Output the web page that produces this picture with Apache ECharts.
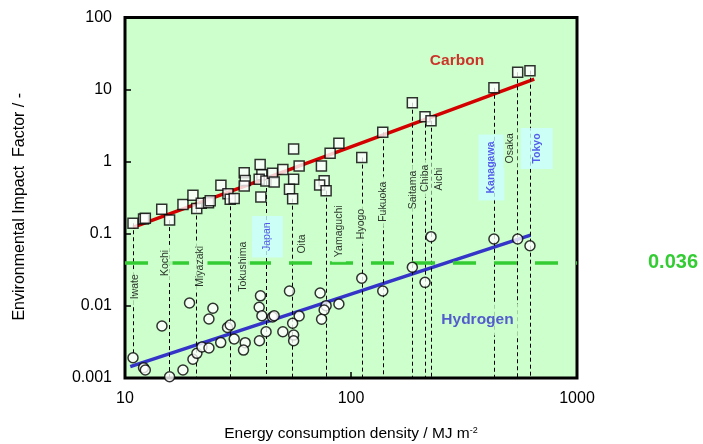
<!DOCTYPE html>
<html><head><meta charset="utf-8">
<script src="https://cdn.jsdelivr.net/npm/echarts@6/dist/echarts.min.js"></script>
<style>html,body{margin:0;padding:0;background:#fff}#c{width:703px;height:444px}</style>
</head><body><div id="c"></div>
<script>
// ---- data ----
const carbonX = [10.85,12.08,12.30,14.54,15.75,18.05,19.98,20.77,21.75,23.42,23.83,26.57,28.54,29.21,30.42,33.69,34.03,33.69,39.63,40.34,39.24,42.02,39.92,44.93,45.71,49.94,55.74,58.96,55.74,53.43,55.18,73.97,80.84,88.40,76.05,72.65,77.6,111.6,138.2,186.8,212.6,226.0,429.0,546.4,619.3];
const carbonY = [0.140,0.160,0.164,0.219,0.155,0.255,0.343,0.224,0.265,0.270,0.288,0.471,0.360,0.301,0.309,0.703,0.548,0.460,0.915,0.660,0.570,0.540,0.324,0.690,0.523,0.780,1.50,0.871,0.570,0.414,0.307,0.871,1.31,1.80,0.545,0.475,0.396,1.14,2.56,6.58,4.21,3.70,10.6,17.4,18.3];
const hydrogenX = [10.85,12.08,12.30,14.57,15.75,18.05,19.30,19.98,20.81,21.90,23.52,23.52,24.49,26.52,28.42,29.21,30.42,34.03,33.45,39.76,39.24,40.34,39.34,42.09,44.93,45.71,49.94,53.43,55.18,55.74,55.74,58.96,73.03,77.6,76.05,74.1,88.4,111.6,138.2,186.8,212.6,226.0,429.0,546.4,619.3];
const hydrogenY = [0.00191,0.00139,0.00129,0.00526,0.00104,0.00129,0.01097,0.00182,0.00220,0.00269,0.00261,0.00658,0.00927,0.00310,0.00501,0.00543,0.00348,0.00309,0.00244,0.0138,0.00957,0.00731,0.00329,0.00438,0.00702,0.00731,0.00438,0.0161,0.00574,0.00394,0.00328,0.00724,0.0151,0.01007,0.00877,0.00652,0.01062,0.0242,0.0161,0.0343,0.0212,0.0912,0.0848,0.0848,0.0684];
const carbonFitX = [10.85, 647];
const carbonFitY = [0.123, 14.0];
const hydrogenFitX = [10.55, 623];
const hydrogenFitY = [0.00144, 0.0961];
const thresholdValue = 0.0375;
const thresholdText = '0.036';
const prefNames = ['Iwate','Kochi','Miyazaki','Tokushima','Japan','Oita','Yamaguchi','Hyogo','Fukuoka','Saitama','Chiba','Aichi','Kanagawa','Osaka','Tokyo'];
const prefLabelX = [11.10,15.12,21.60,33.27,42.70,60.78,88.40,111.0,139.0,187.8,212.0,245.2,418.3,507.6,663.6];
const prefLabelY = [0.01846,0.0394,0.0354,0.0350,0.0912,0.0723,0.1084,0.1368,0.2786,0.4046,0.589,0.575,0.831,1.535,1.524];
const guideX = [10.85,15.75,20.77,29.21,42.02,55.18,77.6,111.6,138.2,186.8,212.6,226.0,429.0,546.4,619.3];
const guideTop = [0.140,0.155,0.224,0.301,0.540,0.307,0.396,1.14,2.56,6.58,4.21,3.70,10.6,17.4,18.3];
const guideBottom = [0.00222,0.001,0.001,0.001,0.001,0.001,0.001,0.001,0.001,0.001,0.001,0.001,0.001,0.001,0.001];
const seriesNames = ['Carbon','Hydrogen'];
const seriesLabelX = [294.4, 362.8];
const seriesLabelY = [24.9, 0.00647];
const xTickLabels = ['10','100','1000'];
const yTickLabels = ['0.001','0.01','0.1','1','10','100'];

// ---- styles ----
const FONT = '"Liberation Sans", Arial, sans-serif';
const prefStyle = {
  Japan: {color:'#3535e8', backgroundColor:'#ccffff', padding:[9.5,6.5]},
  Kanagawa: {color:'#3535e8', fontWeight:'bold', backgroundColor:'#ccffff', padding:[7,7]},
  Tokyo: {color:'#3535e8', fontWeight:'bold', backgroundColor:'#ccffff', padding:[10,5.5]}
};
const seriesLabelStyle = {
  Carbon: {color:'#cc0000', backgroundColor:'transparent', padding:0},
  Hydrogen: {color:'#3333cc', backgroundColor:'#ccffcc', padding:[8,6]}
};
function tickFmt(list){ return function(v){ const e = Math.round(Math.log10(v)); for (const t of list){ if (Math.round(Math.log10(parseFloat(t)))===e) return t; } return ''; }; }

const chart = echarts.init(document.getElementById('c'), null, {renderer:'canvas'});
chart.setOption({
  animation:false,
  backgroundColor:'#ffffff',
  textStyle:{fontFamily:FONT},
  grid:{left:125, right:126, top:17.5, bottom:66, show:true, backgroundColor:'#ccffcc', borderColor:'#000', borderWidth:3, containLabel:false, outerBoundsMode:'none'},
  xAxis:{type:'log', logBase:10, min:10, max:1000, splitNumber:2,
    name:'Energy consumption density / MJ m{sup|-2}', nameLocation:'middle', nameGap:48,
    nameTextStyle:{fontSize:15.5, color:'#000', fontFamily:FONT, rich:{sup:{fontSize:9, verticalAlign:'top', padding:[0,0,7,0], color:'#000', fontFamily:FONT}}},
    axisLine:{show:false}, splitLine:{show:false}, minorTick:{show:false},
    axisTick:{show:true, inside:true, length:6, lineStyle:{color:'#000', width:1.5}},
    axisLabel:{fontSize:16, color:'#000', margin:13, fontFamily:FONT, formatter:tickFmt(xTickLabels), showMinLabel:true, showMaxLabel:true}},
  yAxis:{type:'log', logBase:10, min:0.001, max:100, splitNumber:5,
    name:'Environmental Impact  Factor / -', nameLocation:'middle', nameGap:97,
    nameTextStyle:{fontSize:16, color:'#000', fontFamily:FONT, padding:[0,18,0,0]},
    axisLine:{show:false}, splitLine:{show:false},
    axisTick:{show:true, inside:true, length:6, lineStyle:{color:'#000', width:1.5}},
    axisLabel:{fontSize:16, color:'#000', margin:13, fontFamily:FONT, formatter:tickFmt(yTickLabels), showMinLabel:true, showMaxLabel:true}},
  series:[
    {type:'scatter', name:'guides', data:[], z:2, silent:true,
      markLine:{symbol:'none', silent:true, animation:false, lineStyle:{color:'#000', width:1, type:[4,3]}, label:{show:false},
        data: guideX.map((x,i)=>[{coord:[x, guideTop[i]]},{coord:[x, guideBottom[i]]}])}},
    {type:'scatter', name:'threshold', data:[], z:3, silent:true,
      markLine:{symbol:'none', silent:true, animation:false, lineStyle:{color:'#33cc33', width:3.5, type:[23,18]},
        label:{show:true, position:'end', distance:71, formatter:thresholdText, color:'#33cc33', fontSize:20, fontWeight:'bold', fontFamily:FONT},
        data:[{yAxis:thresholdValue}]}},
    {type:'line', name:'Carbon fit', data:carbonFitX.map((x,i)=>[x,carbonFitY[i]]), showSymbol:false, symbol:'none', z:4,
      lineStyle:{color:'#d40000', width:3.5}},
    {type:'line', name:'Hydrogen fit', data:hydrogenFitX.map((x,i)=>[x,hydrogenFitY[i]]), showSymbol:false, symbol:'none', z:4,
      lineStyle:{color:'#3434c8', width:3.5}},
    {type:'scatter', name:'Carbon', data:carbonX.map((x,i)=>[x,carbonY[i]]), symbol:'rect', symbolSize:10, z:6,
      itemStyle:{color:'#fff', borderColor:'#000', borderWidth:1.5}},
    {type:'scatter', name:'Hydrogen', data:hydrogenX.map((x,i)=>[x,hydrogenY[i]]), symbol:'circle', symbolSize:10, z:6,
      itemStyle:{color:'#fff', borderColor:'#000', borderWidth:1.5}},
    {type:'scatter', name:'prefLabels', symbolSize:0, z:5, silent:true,
      data: prefNames.map((n,i)=>({name:n, value:[prefLabelX[i], prefLabelY[i]],
        label:Object.assign({}, prefStyle[n]||{})})),
      label:{show:true, position:'inside', rotate:90, align:'center', verticalAlign:'middle', formatter:'{b}',
        fontSize:10.5, lineHeight:12, color:'#000', fontFamily:FONT, backgroundColor:'#ccffcc', padding:[1,5]}},
    {type:'scatter', name:'seriesLabels', symbolSize:0, z:7, silent:true,
      data: seriesNames.map((n,i)=>({name:n, value:[seriesLabelX[i], seriesLabelY[i]], label:Object.assign({}, seriesLabelStyle[n])})),
      label:{show:true, position:'inside', align:'center', verticalAlign:'middle', formatter:'{b}', fontSize:15.5, fontWeight:'bold', fontFamily:FONT}}
  ]
});
</script></body></html>
